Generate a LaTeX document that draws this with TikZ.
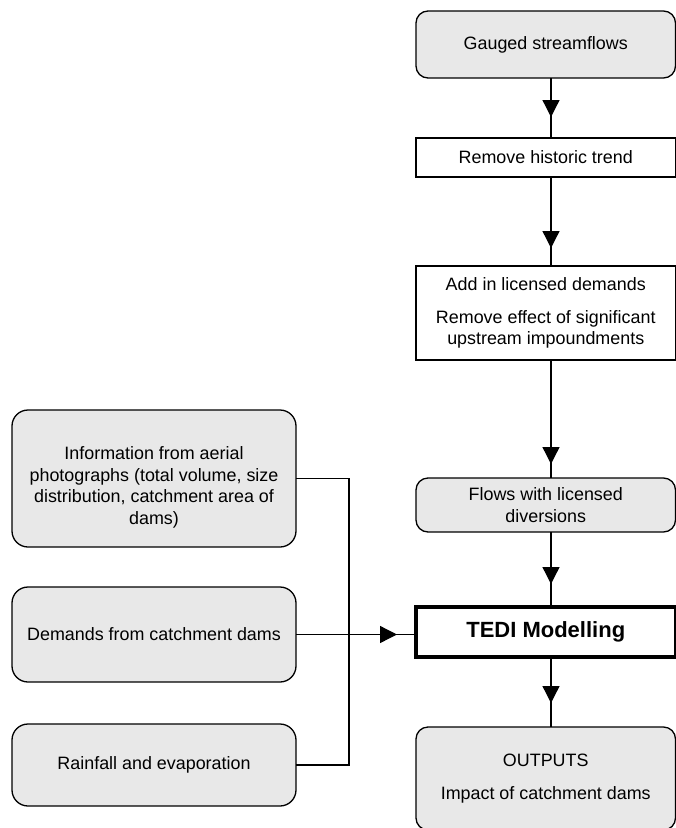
\documentclass[tikz,border=0pt]{standalone}
\usepackage{fontspec}
\setmainfont{Liberation Sans}
\usetikzlibrary{arrows.meta,decorations.markings,calc}
\definecolor{boxgray}{HTML}{E8E8E8}
\begin{document}
\begin{tikzpicture}[x=1pt,y=-1pt,
  every node/.style={font=\fontsize{17.9}{21.5}\selectfont, align=center, inner sep=0pt, outer sep=0pt},
  line width=1.3pt,
  grayround/.style={draw, fill=boxgray, rounded corners=12pt, minimum width=259.5pt},
  whitebox/.style={draw, fill=white, minimum width=259.5pt},
  leftbox/.style={draw, fill=boxgray, rounded corners=16pt, minimum width=284pt},
  tedibox/.style={draw, fill=white, line width=4pt, minimum width=259.5pt, font=\fontsize{22}{26}\selectfont\bfseries},
  flowarrow/.style={postaction={decorate}, decoration={markings, mark=at position -#1 with {\arrow{Triangle[length=17pt,width=17pt]}}}}
]
\useasboundingbox (0,0) rectangle (676,828);
\begin{scope}
\clip (0,0) rectangle (676,828);
% right column
\node[grayround, minimum height=67pt] (gauged) at (545.75,44.5) {Gauged streamflows};
\node[whitebox, minimum height=39pt] (trend) at (545.75,157.5) {Remove historic trend};
\node[whitebox, minimum height=94pt] (add) at (545.75,313) {Add in licensed demands\\[11pt]Remove effect of significant\\upstream impoundments};
\node[grayround, minimum height=54pt] (flows) at (545.75,505) {Flows with licensed\\diversions};
\node[tedibox, minimum height=50pt] (tedi) at (545.75,632) {TEDI Modelling};
\node[grayround, minimum height=103pt] (outputs) at (545.75,778.5) {OUTPUTS\\[11pt]Impact of catchment dams};
% left column
\node[leftbox, minimum height=137pt, label={[yshift=-9pt]center:Information from aerial\\photographs (total volume, size\\distribution, catchment area of\\dams)}] (info) at (154,478.5) {};
\node[leftbox, minimum height=95pt] (demands) at (154,634.5) {Demands from catchment dams};
\node[leftbox, minimum height=82pt] (rain) at (154,765) {Rainfall and evaporation};
% axes for connectors
\coordinate (axis) at (551,0);
\coordinate (bus) at (349,0);
% connectors
\draw[flowarrow=21pt] (gauged.south -| axis) -- (trend.north -| axis);
\draw[flowarrow=18pt] (trend.south -| axis) -- (add.north -| axis);
\draw[flowarrow=14pt] (add.south -| axis) -- (flows.north -| axis);
\draw[flowarrow=23pt] (flows.south -| axis) -- (tedi.north -| axis);
\draw[flowarrow=24pt] (tedi.south -| axis) -- (outputs.north -| axis);
\draw[flowarrow=19pt] (demands.east) -- (demands.east -| tedi.west);
\draw (info.east) -- (info.east -| bus) -- (rain.east -| bus) -- (rain.east);
\end{scope}
\end{tikzpicture}
\end{document}
